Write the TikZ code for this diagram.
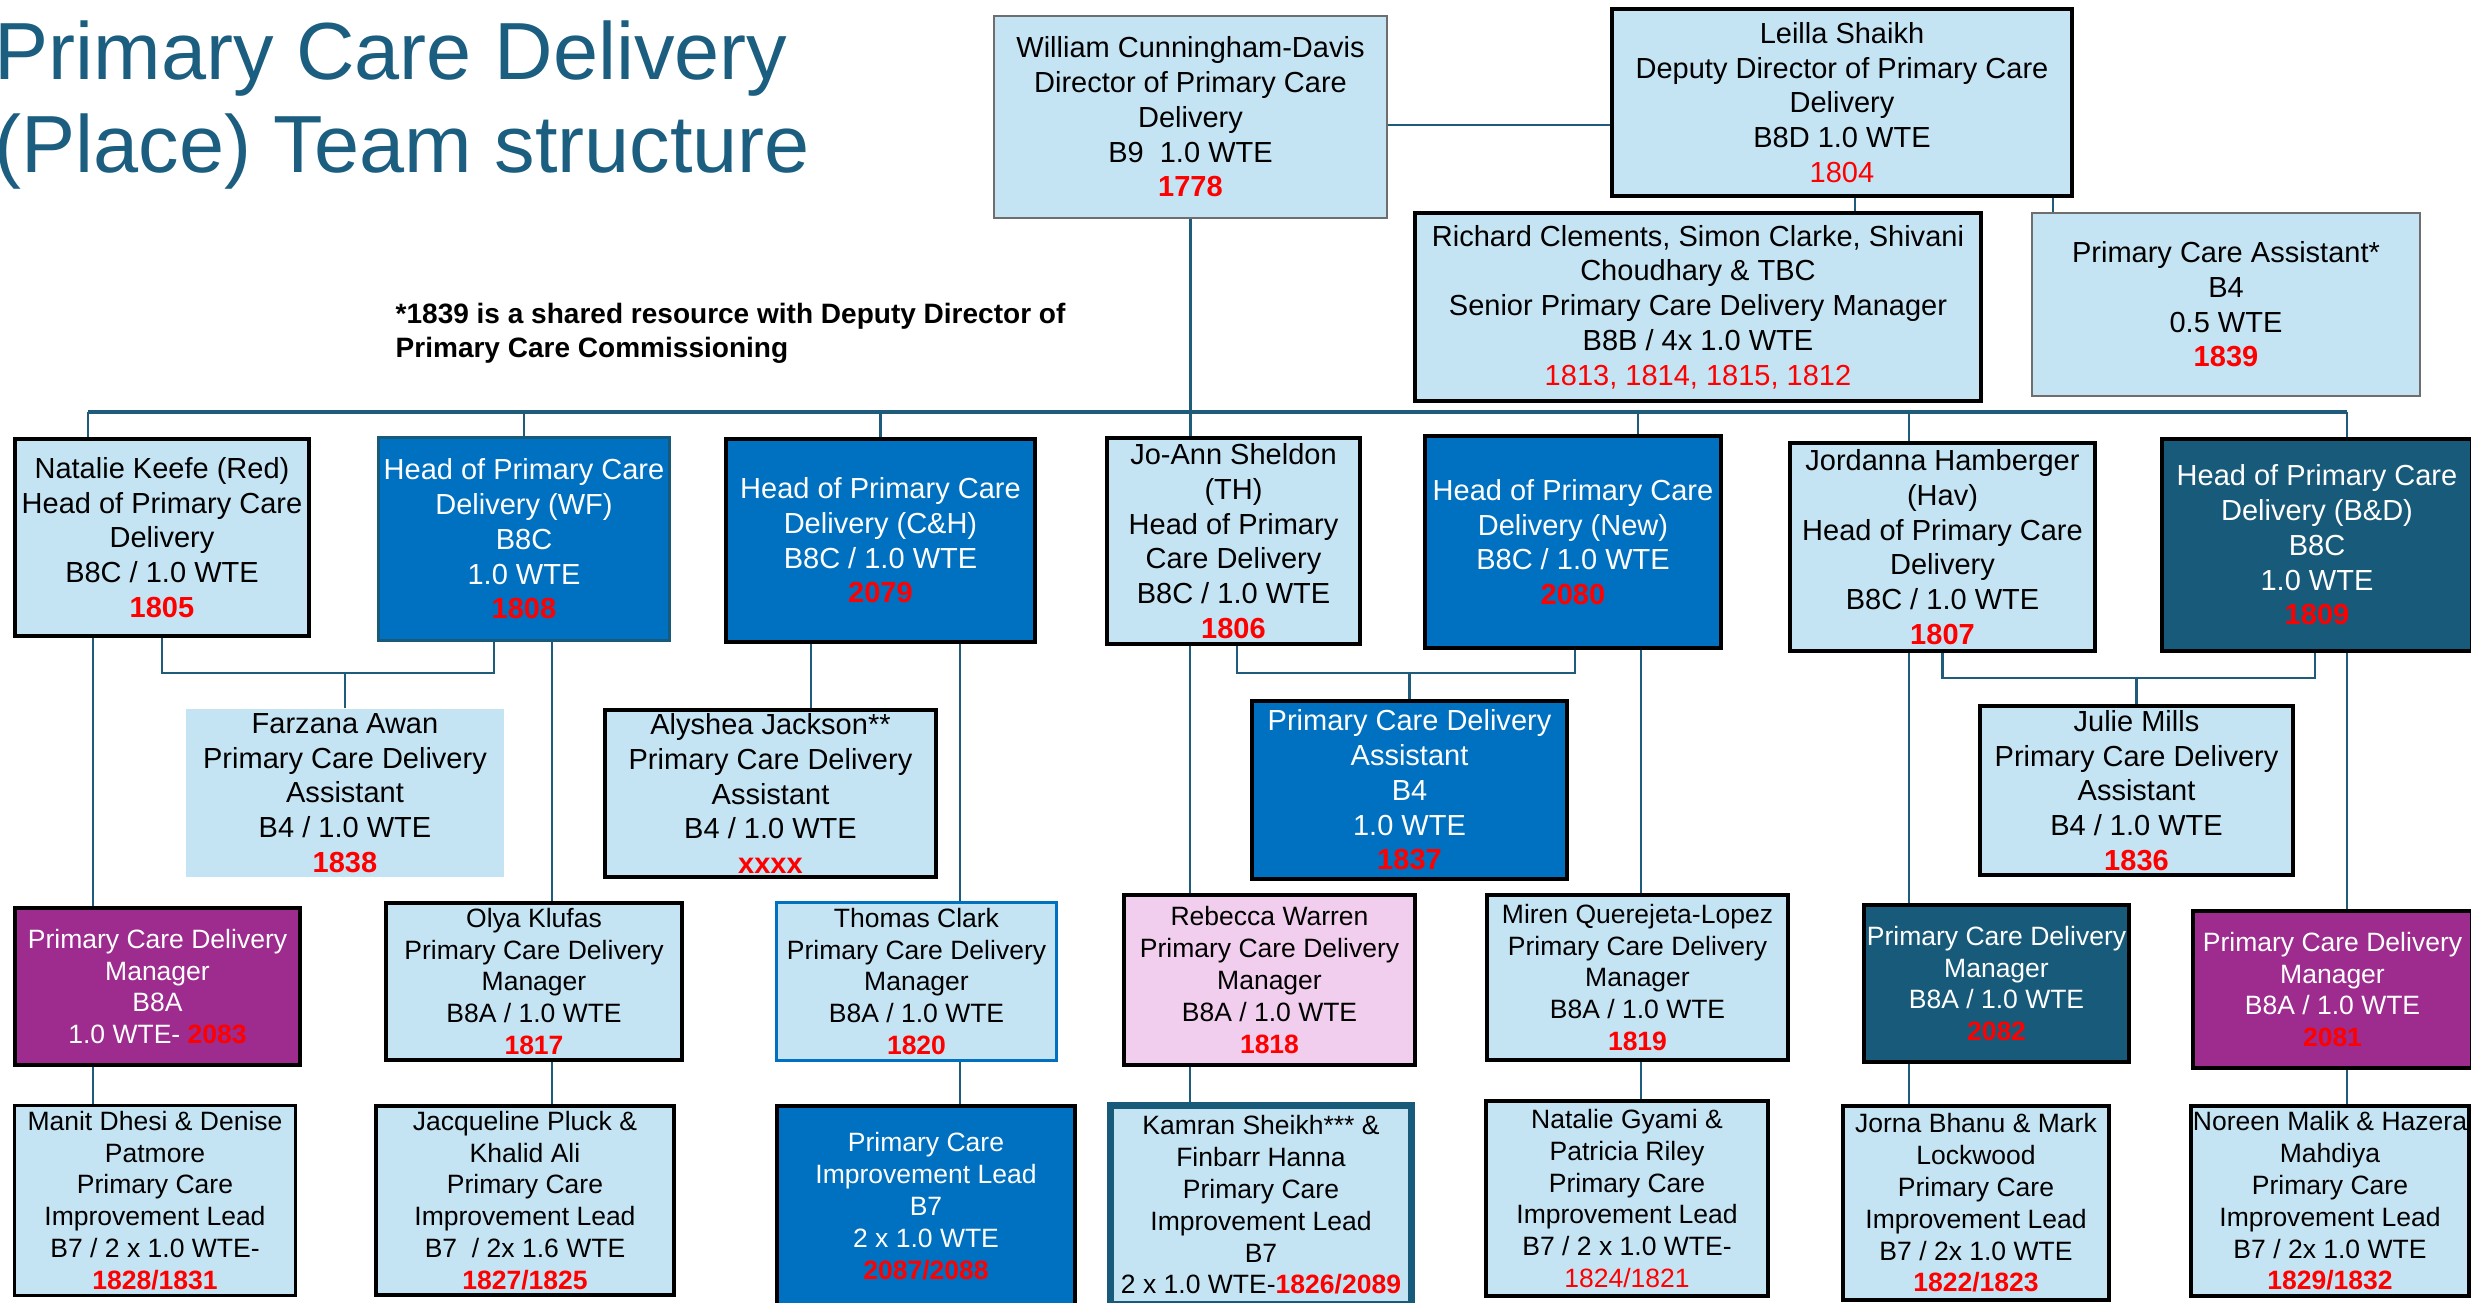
\documentclass[tikz,border=0pt]{standalone}
\usepackage{fontspec}
\setmainfont{Liberation Sans}

\definecolor{paleblue}{RGB}{197,228,243}
\definecolor{midblue}{RGB}{0,112,192}
\definecolor{deepteal}{RGB}{24,90,122}
\definecolor{titleteal}{RGB}{27,94,128}
\definecolor{plum}{RGB}{158,43,142}
\definecolor{blush}{RGB}{242,206,238}
\definecolor{linkteal}{RGB}{31,91,122}
\definecolor{edgegray}{RGB}{110,110,110}
\definecolor{numred}{RGB}{255,0,0}

% text sizes used in the chart
\newcommand\fA{\fontsize{8.25pt}{9.87pt}\selectfont}
\newcommand\fB{\fontsize{7.54pt}{9.05pt}\selectfont}
\newcommand\fNote{\fontsize{7.97pt}{9.67pt}\selectfont\bfseries}
\newcommand\fTitle{\fontsize{23.05pt}{26pt}\selectfont}
% post numbers
\newcommand\numB[1]{{\bfseries\color{numred}#1}}
\newcommand\numR[1]{{\color{numred}#1}}

\begin{document}
\begin{tikzpicture}[x=0.01cm,y=-0.01cm,
  base/.style={rectangle, inner sep=0pt, align=center, font=\fA, text=black},
  sm/.style={font=\fB},
  sz/.style 2 args={minimum width=#1cm, minimum height=#2cm},
  heavy/.style={draw=black, line width=1.28pt},
  pale/.style={base, fill=paleblue},
  blue/.style={base, fill=midblue, text=white},
  teal/.style={base, fill=deepteal, text=white},
  purple/.style={base, fill=plum, text=white},
  pink/.style={base, fill=blush},
  conn/.style={draw=linkteal, line width=0.72pt},
  bus/.style={draw=linkteal, line width=1.15pt},
]
\useasboundingbox (0,0) rectangle (2471,1303);
\clip (0,0) rectangle (2471,1303);

% ---------- heading and note ----------
\node[anchor=base west, inner sep=0pt, font=\fTitle, text=titleteal] (title1) at (-6,80) {Primary Care Delivery};
\node[anchor=base west, inner sep=0pt, font=\fTitle, text=titleteal] (title2) at (-6,172) {(Place) Team structure};
\node[anchor=base west, inner sep=0pt, font=\fNote] (note1) at (395,323) {*1839 is a shared resource with Deputy Director of};
\node[anchor=base west, inner sep=0pt, font=\fNote] (note2) at (395,357) {Primary Care Commissioning};

% ---------- directors ----------
\node[pale, draw=edgegray, line width=0.45pt, sz={3.93}{2.02}] (wcd) at (1190.5,117)
  {William Cunningham-Davis\\Director of Primary Care\\Delivery\\B9\ \ 1.0 WTE\\\numB{1778}};
\node[pale, heavy, sz={4.60}{1.87}] (ls) at (1842,102.5)
  {Leilla Shaikh\\Deputy Director of Primary Care\\Delivery\\B8D 1.0 WTE\\\numR{1804}};
\node[pale, heavy, sz={5.66}{1.88}] (rc) at (1698,307)
  {Richard Clements, Simon Clarke, Shivani\\Choudhary \& TBC\\Senior Primary Care Delivery Manager\\B8B / 4x 1.0 WTE\\\numR{1813, 1814, 1815, 1812}};
\node[pale, draw=edgegray, line width=0.45pt, sz={3.88}{1.83}] (pca) at (2226,304.5)
  {Primary Care Assistant*\\B4\\0.5 WTE\\\numB{1839}};

% ---------- heads of delivery ----------
\node[pale, heavy, sz={2.94}{1.97}] (nk) at (162,537.5)
  {Natalie Keefe (Red)\\Head of Primary Care\\Delivery\\B8C / 1.0 WTE\\\numB{1805}};
\node[blue, draw=deepteal, line width=0.9pt, sz={2.91}{2.03}] (wf) at (524,539)
  {Head of Primary Care\\Delivery (WF)\\B8C\\1.0 WTE\\\numB{1808}};
\node[blue, heavy, sz={3.09}{2.03}] (ch) at (880.5,540.5)
  {Head of Primary Care\\Delivery (C\&H)\\B8C / 1.0 WTE\\\numB{2079}};
\node[pale, heavy, sz={2.53}{2.06}] (js) at (1233.5,541)
  {Jo-Ann Sheldon\\(TH)\\Head of Primary\\Care Delivery\\B8C / 1.0 WTE\\\numB{1806}};
\node[blue, heavy, sz={2.96}{2.12}] (nw) at (1573,542)
  {Head of Primary Care\\Delivery (New)\\B8C / 1.0 WTE\\\numB{2080}};
\node[pale, heavy, sz={3.05}{2.08}] (jh) at (1942.5,547)
  {Jordanna Hamberger\\(Hav)\\Head of Primary Care\\Delivery\\B8C / 1.0 WTE\\\numB{1807}};
\node[teal, heavy, sz={3.10}{2.12}] (bd) at (2317,545)
  {Head of Primary Care\\Delivery (B\&D)\\B8C\\1.0 WTE\\\numB{1809}};

% ---------- delivery assistants ----------
\node[pale, sz={3.18}{1.68}] (fa) at (345,793)
  {Farzana Awan\\Primary Care Delivery\\Assistant\\B4 / 1.0 WTE\\\numB{1838}};
\node[pale, heavy, sz={3.31}{1.67}] (aj) at (770.5,793.5)
  {Alyshea Jackson**\\Primary Care Delivery\\Assistant\\B4 / 1.0 WTE\\\numB{xxxx}};
\node[blue, heavy, sz={3.15}{1.78}] (pa) at (1409.5,790)
  {Primary Care Delivery\\Assistant\\B4\\1.0 WTE\\\numB{1837}};
\node[pale, heavy, sz={3.13}{1.69}] (jm) at (2136.5,790.5)
  {Julie Mills\\Primary Care Delivery\\Assistant\\B4 / 1.0 WTE\\\numB{1836}};

% ---------- delivery managers ----------
\node[purple, sm, heavy, sz={2.85}{1.57}] (m1) at (157.5,986.5)
  {Primary Care Delivery\\Manager\\B8A\\1.0 WTE- \numB{2083}};
\node[pale, sm, heavy, sz={2.96}{1.57}] (ok) at (534,981.5)
  {Olya Klufas\\Primary Care Delivery\\Manager\\B8A / 1.0 WTE\\\numB{1817}};
\node[pale, sm, draw=midblue, line width=1pt, sz={2.80}{1.58}] (tc) at (916.5,981.5)
  {Thomas Clark\\Primary Care Delivery\\Manager\\B8A / 1.0 WTE\\\numB{1820}};
\node[pink, sm, heavy, sz={2.91}{1.70}] (rw) at (1269.5,980)
  {Rebecca Warren\\Primary Care Delivery\\Manager\\B8A / 1.0 WTE\\\numB{1818}};
\node[pale, sm, heavy, sz={3.01}{1.65}] (mq) at (1637.5,977.5)
  {Miren Querejeta-Lopez\\Primary Care Delivery\\Manager\\B8A / 1.0 WTE\\\numB{1819}};
\node[teal, sm, heavy, sz={2.65}{1.57}] (m2) at (1996.5,983.5)
  {Primary Care Delivery\\Manager\\B8A / 1.0 WTE\\\numB{2082}};
\node[purple, sm, heavy, sz={2.79}{1.57}] (m3) at (2332.5,989.5)
  {Primary Care Delivery\\Manager\\B8A / 1.0 WTE\\\numB{2081}};

% ---------- improvement leads ----------
\node[pale, sm, draw=black, line width=0.85pt, sz={2.81}{1.90}] (l1) at (155,1200.5)
  {Manit Dhesi \& Denise\\Patmore\\Primary Care\\Improvement Lead\\B7 / 2 x 1.0 WTE-\\\numB{1828/1831}};
\node[pale, sm, heavy, sz={2.98}{1.89}] (l2) at (525,1200.5)
  {Jacqueline Pluck \&\\Khalid Ali\\Primary Care\\Improvement Lead\\B7\ \ / 2x 1.6 WTE\\\numB{1827/1825}};
\node[blue, sm, heavy, sz={2.98}{2.00}] (l3) at (926,1206)
  {Primary Care\\Improvement Lead\\B7\\2 x 1.0 WTE\\\numB{2087/2088}};
\node[pale, sm, draw=deepteal, line width=2pt, sz={3.01}{1.99}] (l4) at (1261,1205)
  {Kamran Sheikh*** \&\\Finbarr Hanna\\Primary Care\\Improvement Lead\\B7\\2 x 1.0 WTE-\numB{1826/2089}};
\node[pale, sm, heavy, sz={2.82}{1.95}] (l5) at (1627,1198.5)
  {Natalie Gyami \&\\Patricia Riley\\Primary Care\\Improvement Lead\\B7 / 2 x 1.0 WTE-\\\numR{1824/1821}};
\node[pale, sm, heavy, sz={2.66}{1.94}] (l6) at (1976,1203)
  {Jorna Bhanu \& Mark\\Lockwood\\Primary Care\\Improvement Lead\\B7 / 2x 1.0 WTE\\\numB{1822/1823}};
\node[pale, sm, heavy, sz={2.78}{1.90}] (l7) at (2330,1201)
  {Noreen Malik \& Hazera\\Mahdiya\\Primary Care\\Improvement Lead\\B7 / 2x 1.0 WTE\\\numB{1829/1832}};

% ---------- reporting lines ----------
% director to deputy, deputy to her reports
\coordinate (yDD) at (0,125);
\draw[conn] (wcd.east |- yDD) -- (ls.west |- yDD);
\coordinate (xRC) at (1855,0);
\coordinate (xPA) at (2053,0);
\draw[conn] (ls.south -| xRC) -- (rc.north -| xRC);
\draw[conn] (ls.south -| xPA) -- (pca.north -| xPA);

% bus across the heads of delivery
\coordinate (busL) at (88,412);
\coordinate (busR) at (2347,412);
\coordinate (tapNew) at (1638,412);
\coordinate (tapHav) at (1909,412);
\draw[bus] (busL) -- (busR);
\draw[conn] (wcd.south) -- (wcd.south |- js.north);
\draw[conn] (busL) -- (busL |- nk.north);
\draw[conn] (wf.north |- busL) -- (wf.north);
\draw[conn] (ch.north |- busL) -- (ch.north);
\draw[conn] (tapNew) -- (tapNew |- nw.north);
\draw[conn] (tapHav) -- (tapHav |- jh.north);
\draw[conn] (busR) -- (busR |- bd.north);

% heads down to managers and improvement leads
\coordinate (t1) at (93,0);
\coordinate (t2) at (552,0);
\coordinate (t3) at (960,0);
\coordinate (t4) at (1190,0);
\coordinate (t5) at (1641,0);
\coordinate (t6) at (1909,0);
\coordinate (t7) at (2347,0);
\draw[conn] (nk.south -| t1) -- (m1.north -| t1);
\draw[conn] (m1.south -| t1) -- (l1.north -| t1);
\draw[conn] (wf.south -| t2) -- (ok.north -| t2);
\draw[conn] (ok.south -| t2) -- (l2.north -| t2);
\draw[conn] (ch.south -| t3) -- (tc.north -| t3);
\draw[conn] (tc.south -| t3) -- (l3.north -| t3);
\draw[conn] (js.south -| t4) -- (rw.north -| t4);
\draw[conn] (rw.south -| t4) -- (l4.north -| t4);
\draw[conn] (nw.south -| t5) -- (mq.north -| t5);
\draw[conn] (mq.south -| t5) -- (l5.north -| t5);
\draw[conn] (jh.south -| t6) -- (m2.north -| t6);
\draw[conn] (m2.south -| t6) -- (l6.north -| t6);
\draw[conn] (bd.south -| t7) -- (m3.north -| t7);
\draw[conn] (m3.south -| t7) -- (l7.north -| t7);

% shared delivery assistants
\coordinate (hA) at (0,673);
\coordinate (xWF) at (494,0);
\draw[conn] (nk.south) -- (nk.south |- hA) -- (xWF |- hA) -- (xWF |- wf.south);
\draw[conn] (fa.north) -- (fa.north |- hA);

\coordinate (xAJ) at (811,0);
\draw[conn] (ch.south -| xAJ) -- (aj.north -| xAJ);

\coordinate (xJS) at (1237,0);
\coordinate (xNW) at (1575,0);
\draw[conn] (js.south -| xJS) -- (xJS |- hA) -- (xNW |- hA) -- (nw.south -| xNW);
\draw[conn] (pa.north) -- (pa.north |- hA);

\coordinate (hB) at (0,678);
\coordinate (xBD) at (2315,0);
\draw[conn] (jh.south) -- (jh.south |- hB) -- (xBD |- hB) -- (bd.south -| xBD);
\draw[conn] (jm.north) -- (jm.north |- hB);
\end{tikzpicture}
\end{document}
